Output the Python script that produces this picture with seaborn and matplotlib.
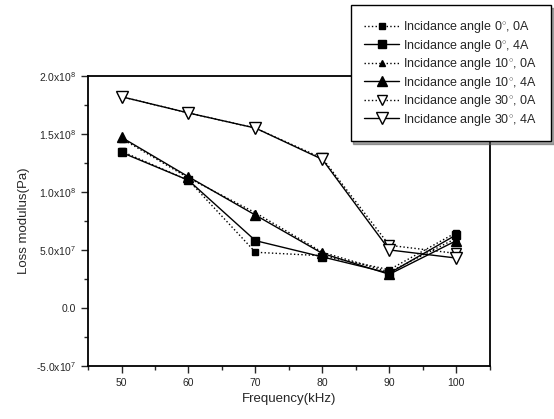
import matplotlib
matplotlib.use("Agg")
import matplotlib.pyplot as plt
import seaborn as sns
import numpy as np
from matplotlib.ticker import FuncFormatter, MultipleLocator

sns.set_style("ticks")
plt.rcParams['font.family'] = ['Liberation Sans', 'DejaVu Sans']
plt.rcParams['mathtext.fontset'] = 'custom'
plt.rcParams['mathtext.rm'] = 'Liberation Sans'
plt.rcParams['mathtext.it'] = 'Liberation Sans'

freq = [50, 60, 70, 80, 90, 100]
labels = ["Incidance angle 0$^{\\circ}$, 0A", "Incidance angle 0$^{\\circ}$, 4A",
          "Incidance angle 10$^{\\circ}$, 0A", "Incidance angle 10$^{\\circ}$, 4A",
          "Incidance angle 30$^{\\circ}$, 0A", "Incidance angle 30$^{\\circ}$, 4A"]
a0_0A = [1.35e8, 1.10e8, 4.8e7, 4.5e7, 3.3e7, 6.5e7]
a0_4A = [1.34e8, 1.10e8, 5.8e7, 4.4e7, 3.0e7, 6.3e7]
a10_0A = [1.46e8, 1.12e8, 8.2e7, 4.8e7, 3.1e7, 6.0e7]
a10_4A = [1.47e8, 1.13e8, 8.0e7, 4.7e7, 2.9e7, 5.8e7]
a30_0A = [1.82e8, 1.68e8, 1.55e8, 1.29e8, 5.4e7, 4.7e7]
a30_4A = [1.82e8, 1.68e8, 1.55e8, 1.28e8, 5.0e7, 4.3e7]
yticks = [-5e7, 0, 5e7, 1e8, 1.5e8, 2e8]

series = [a0_0A, a0_4A, a10_0A, a10_4A, a30_0A, a30_4A]
styles = [
    dict(marker='s', linestyle=':', markerfacecolor='black', markersize=5),
    dict(marker='s', linestyle='-', markerfacecolor='black', markersize=6),
    dict(marker='^', linestyle=':', markerfacecolor='black', markersize=5),
    dict(marker='^', linestyle='-', markerfacecolor='black', markersize=7),
    dict(marker='v', linestyle=':', markerfacecolor='white', markersize=7),
    dict(marker='v', linestyle='-', markerfacecolor='white', markersize=8),
]

fig = plt.figure(figsize=(5.54, 4.19), dpi=100)
ax = fig.add_axes([0.159, 0.1265, 0.725, 0.6925])
for vals, lab, st in zip(series, labels, styles):
    sns.lineplot(x=freq, y=vals, ax=ax, color='black', linewidth=1.0,
                 markeredgecolor='black', markeredgewidth=1.0, label=lab, **st)

ax.set_xlim(45, 105)
ax.set_ylim(-5e7, 2e8)
ax.set_xticks(freq)
ax.set_yticks(yticks)
ax.xaxis.set_minor_locator(MultipleLocator(5))
ax.yaxis.set_minor_locator(MultipleLocator(2.5e7))

def fmt(v, pos):
    if v == 0:
        return "0.0"
    e = int(np.floor(np.log10(abs(v))))
    m = v / 10**e
    return r"%.1fx10$^{%d}$" % (m, e)

ax.yaxis.set_major_formatter(FuncFormatter(fmt))
ax.tick_params(axis='both', which='major', length=5, width=1, direction='out', labelsize=7.5)
ax.tick_params(axis='both', which='minor', length=3, width=1, direction='out')
for s in ax.spines.values():
    s.set_linewidth(1.3)
    s.set_color('black')
ax.set_xlabel("Frequency(kHz)", fontsize=9.5)
ax.set_ylabel("Loss modulus(Pa)", fontsize=9.5)

ax.get_legend().remove()
h, l = ax.get_legend_handles_labels()
leg = fig.legend(h, l, loc='upper right', bbox_to_anchor=(0.999, 0.993), fontsize=9,
                 frameon=True, shadow=True, fancybox=False, handlelength=2.8,
                 borderpad=1.1, labelspacing=0.2, handletextpad=0.3, borderaxespad=0.2)
leg.get_frame().set_edgecolor('black')
leg.get_frame().set_linewidth(1.0)

fig.savefig("out.png", dpi=100)
